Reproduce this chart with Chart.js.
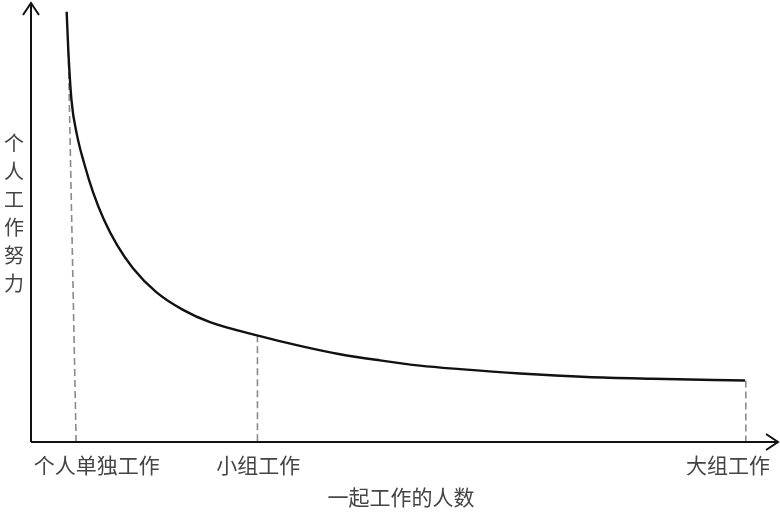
<!DOCTYPE html>
<html>
<head>
<meta charset="utf-8">
<script src="https://cdn.jsdelivr.net/npm/chart.js@4"></script>
<style>
  body { margin: 0; background: #fff; }
  #wrap { width: 780px; height: 512px; }
</style>
</head>
<body>
<div id="wrap"><canvas id="effort-chart"></canvas></div>
<script>
// curve (x: group size, y: individual effort, both 0-100 scale)
const curveX = [4.82, 5.04, 5.47, 6.22, 7.16, 8.38, 9.86, 11.62, 13.78, 16.89, 20.54, 24.19, 30.54, 36.35, 41.76, 47.16, 52.57, 57.97, 66.08, 75.14, 84.05, 96.49];
const curveY = [98.0, 89.3, 77.9, 69.9, 63.6, 56.9, 50.6, 44.9, 39.6, 34.2, 30.1, 27.3, 24.3, 21.9, 20.0, 18.6, 17.4, 16.6, 15.6, 14.8, 14.4, 14.0];

// dashed guide lines: top point on the curve, bottom point on the x axis
const guideTopX = [5.04, 30.6, 96.6];
const guideTopY = [89.3, 24.3, 14.0];
const guideBottomX = [6.1, 30.6, 96.6];

const tickPositions = [8.9, 30.7, 94.2];
const tickLabels = ['个人单独工作', '小组工作', '大组工作'];
const xTitle = '一起工作的人数';
const yTitle = '个人工作努力';

const cjkFont = '"Noto Sans CJK SC", "Noto Sans", sans-serif';

const curveData = curveX.map((x, i) => ({ x: x, y: curveY[i] }));

const guideSets = guideTopX.map((x, i) => ({
  data: [{ x: x, y: guideTopY[i] }, { x: guideBottomX[i], y: 0 }],
  borderColor: '#8a8a8a',
  borderWidth: 1.6,
  borderDash: [7, 4],
  pointRadius: 0,
  showLine: true,
}));

const axesPlugin = {
  id: 'axesArrows',
  afterDraw(chart) {
    const { ctx, chartArea } = chart;
    const left = chartArea.left;
    const bottom = chartArea.bottom;
    const topTip = 3;
    const rightTip = chartArea.right + 7;
    ctx.save();
    ctx.strokeStyle = '#111';
    ctx.lineWidth = 2;
    ctx.beginPath();
    ctx.moveTo(left, bottom);
    ctx.lineTo(left, topTip);
    ctx.moveTo(left, bottom);
    ctx.lineTo(rightTip, bottom);
    // arrow heads
    ctx.moveTo(left - 8, topTip + 12);
    ctx.lineTo(left, topTip);
    ctx.lineTo(left + 8, topTip + 12);
    ctx.moveTo(rightTip - 12, bottom - 8);
    ctx.lineTo(rightTip, bottom);
    ctx.lineTo(rightTip - 12, bottom + 8);
    ctx.stroke();

    // vertical y title, one character per line
    const yScale = chart.scales.y;
    const chars = Array.from(yTitle);
    const step = 28;
    const cy = yScale.getPixelForValue(52);
    ctx.fillStyle = '#444';
    ctx.font = '20px ' + cjkFont;
    ctx.textAlign = 'center';
    ctx.textBaseline = 'middle';
    chars.forEach((c, i) => {
      ctx.fillText(c, left - 17, cy + (i - (chars.length - 1) / 2) * step);
    });
    ctx.restore();
  }
};

new Chart(document.getElementById('effort-chart'), {
  type: 'scatter',
  data: {
    datasets: [
      {
        data: curveData,
        borderColor: '#111',
        borderWidth: 2.4,
        pointRadius: 0,
        showLine: true,
        cubicInterpolationMode: 'monotone',
      },
      ...guideSets,
    ],
  },
  options: {
    responsive: true,
    maintainAspectRatio: false,
    animation: false,
    layout: { padding: { left: 31, top: 3, right: 9, bottom: 0 } },
    plugins: { legend: { display: false }, tooltip: { enabled: false } },
    scales: {
      x: {
        type: 'linear',
        min: 0,
        max: 100,
        grid: { display: false, drawTicks: false },
        border: { display: false },
        afterBuildTicks: (scale) => {
          scale.ticks = tickPositions.map((v) => ({ value: v }));
        },
        // labels already sit inside the plot width, no extra side padding
        afterFit: (scale) => {
          scale.paddingLeft = 0;
          scale.paddingRight = 0;
        },
        ticks: {
          autoSkip: false,
          maxRotation: 0,
          padding: 13,
          color: '#444',
          font: { size: 21, family: cjkFont, lineHeight: 1 },
          callback: (val, idx) => tickLabels[idx],
        },
        title: {
          display: true,
          text: xTitle,
          color: '#444',
          font: { size: 21, family: cjkFont, lineHeight: 1 },
          padding: { top: -2, bottom: 4 },
        },
      },
      y: {
        type: 'linear',
        display: false,
        min: 0,
        max: 100,
      },
    },
  },
  plugins: [axesPlugin],
});
</script>
</body>
</html>
